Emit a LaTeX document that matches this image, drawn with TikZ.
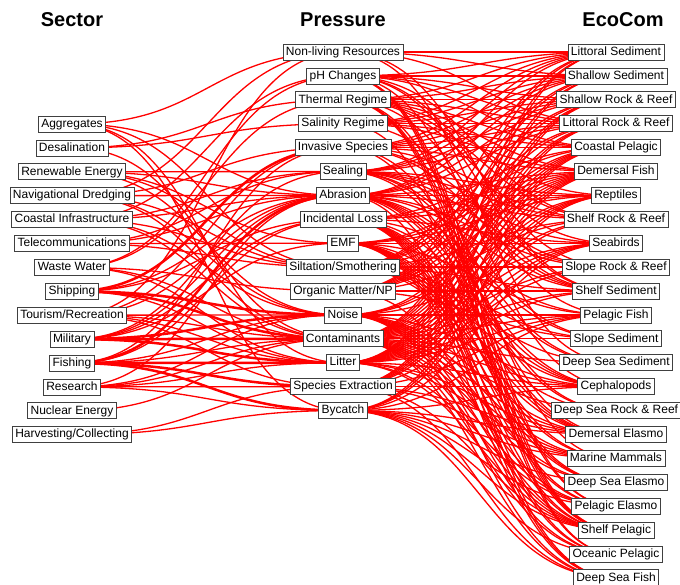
\documentclass[tikz,border=0pt]{standalone}
\usepackage{fontspec}
\setmainfont{Liberation Sans}
\usetikzlibrary{backgrounds}

\tikzset{
  nbox/.style={draw=black!75, line width=0.8pt, fill=white, inner xsep=3pt, inner ysep=0pt,
    minimum height=16pt, text height=9pt, text depth=2.5pt, font=\fontsize{12}{14}\selectfont},
  heading/.style={font=\fontsize{20}{24}\selectfont\bfseries},
  % diagonal curve, flat at both ends
  edgeline/.style={red, line width=1.3pt,
    to path={.. controls +(136,0) and +(-136,0) .. (\tikztotarget)}},
}

\begin{document}
\begin{tikzpicture}[x=1pt, y=-1pt]
  \useasboundingbox (0,0) rectangle (680,584);
  % column headings
  \node[heading] (hsec) at (72,20) {Sector};
  \node[heading] (hpre) at (343,20) {Pressure};
  \node[heading] (heco) at (623,20) {EcoCom};
  % sectors
  \foreach \n/\txt [count=\i from 0] in {agg/Aggregates, desal/Desalination,
      renew/Renewable Energy, dredge/Navigational Dredging, coast/Coastal Infrastructure,
      telec/Telecommunications, waste/Waste Water, ship/Shipping,
      tour/{Tourism/Recreation}, mil/Military, fish/Fishing, res/Research,
      nuc/Nuclear Energy, harv/{Harvesting/Collecting}}
    \node[nbox] (\n) at (72,124+23.9*\i) {\txt};
  % pressures
  \foreach \n/\txt [count=\i from 0] in {nl/Non-living Resources, ph/pH Changes,
      tr/Thermal Regime, sr/Salinity Regime, is/Invasive Species, se/Sealing,
      ab/Abrasion, il/Incidental Loss, emf/EMF, ss/{Siltation/Smothering},
      om/{Organic Matter/NP}, no/Noise, co/Contaminants, li/Litter,
      sx/Species Extraction, by/Bycatch}
    \node[nbox] (\n) at (343,52+23.9*\i) {\txt};
  % ecological components
  \foreach \n/\txt [count=\i from 0] in {lsed/Littoral Sediment, ssed/Shallow Sediment,
      srock/Shallow Rock \& Reef, lrock/Littoral Rock \& Reef, cpel/Coastal Pelagic,
      dfish/Demersal Fish, rept/Reptiles, shrock/Shelf Rock \& Reef, bird/Seabirds,
      slrock/Slope Rock \& Reef, shsed/Shelf Sediment, pfish/Pelagic Fish,
      slsed/Slope Sediment, dssed/Deep Sea Sediment, ceph/Cephalopods,
      dsrock/Deep Sea Rock \& Reef, delas/Demersal Elasmo, mamm/Marine Mammals,
      dselas/Deep Sea Elasmo, pelas/Pelagic Elasmo, shpel/Shelf Pelagic,
      opel/Oceanic Pelagic, dsfish/Deep Sea Fish}
    \node[nbox] (\n) at (616,52+23.9*\i) {\txt};

  \begin{scope}[on background layer]
    % sector -> pressure
    \foreach \s/\p/\w in {agg/nl/1.3, agg/ab/1.3, agg/ss/1.3, agg/li/1.3, agg/by/1.3,
        desal/tr/1.3, desal/sr/1.3, desal/co/1.3,
        renew/se/1.3, renew/ab/1.3, renew/emf/1.3, renew/ss/1.3, renew/no/1.3,
        dredge/nl/1.3, dredge/ab/1.3, dredge/ss/1.3, dredge/co/1.3, dredge/no/1.3, dredge/is/1.3,
        coast/ph/1.3, coast/se/1.3, coast/ab/1.3, coast/ss/1.3, coast/no/1.3, coast/co/1.3,
        telec/se/1.3, telec/ab/1.3, telec/emf/1.3, telec/ss/1.3,
        waste/ph/1.3, waste/tr/1.3, waste/om/1.3, waste/co/1.3, waste/li/1.3,
        ship/is/2.5, ship/il/1.3, ship/ab/1.3, ship/no/2.5, ship/co/2.5, ship/li/1.3,
        tour/nl/1.3, tour/is/1.3, tour/ab/1.3, tour/no/1.3, tour/co/1.3, tour/li/1.3, tour/sx/1.3,
        mil/se/1.3, mil/ab/1.3, mil/il/1.3, mil/emf/1.3, mil/no/2.5, mil/co/2.5, mil/li/2.5,
        fish/is/1.3, fish/ab/2.5, fish/il/1.3, fish/no/1.3, fish/co/1.3, fish/li/2.5,
        fish/sx/2.5, fish/by/2.5,
        res/ab/1.3, res/no/1.3, res/co/1.3, res/li/1.3, res/sx/1.3, res/by/1.3,
        nuc/co/1.3, harv/sx/1.3, harv/by/1.3}
      \draw[edgeline, line width=\w pt] (\s.center) to (\p.center);
    % pressure -> ecological component
    \foreach \p/\lst in {nl/{lsed,ssed,lrock,shsed,dssed},
        ph/{lsed,ssed,srock,lrock,cpel,shrock,slrock,shsed,ceph,pelas,shpel,opel},
        tr/{lsed,ssed,srock,lrock,cpel,dfish,rept,shrock,bird,pfish,mamm,pelas,shpel,opel},
        sr/{lsed,ssed,srock,lrock,cpel,dfish,shsed,shpel},
        is/{lsed,ssed,srock,lrock,cpel,shrock,shsed,dfish,slrock,delas,shpel},
        se/{lsed,ssed,srock,lrock,shrock,slrock,shsed,slsed,dssed,dsrock,rept,bird},
        ab/{lsed,ssed,srock,lrock,shrock,slrock,shsed,slsed,dssed,dsrock,dfish,delas,ceph,
            rept,dselas,dsfish},
        il/{dfish,rept,bird,pfish,ceph,delas,mamm,dselas,pelas,shpel,opel,dsfish,cpel},
        emf/{dfish,rept,pfish,ceph,delas,mamm,dselas,pelas,shpel,opel,dsfish,cpel,bird},
        ss/{lsed,ssed,srock,lrock,shrock,slrock,shsed,slsed,dssed,dsrock,dfish,ceph,delas},
        om/{lsed,ssed,srock,lrock,cpel,shsed,shrock,shpel,dfish,slsed},
        no/{cpel,dfish,rept,bird,pfish,ceph,delas,mamm,dselas,pelas,shpel,opel,dsfish},
        co/{lsed,ssed,srock,lrock,cpel,dfish,rept,shrock,bird,slrock,shsed,pfish,slsed,
            dssed,ceph,dsrock,delas,mamm,dselas,pelas,shpel,opel,dsfish},
        li/{lsed,ssed,srock,lrock,cpel,dfish,rept,bird,shsed,pfish,ceph,delas,mamm,
            pelas,shpel,shrock,slrock},
        sx/{srock,lrock,cpel,dfish,rept,pfish,ceph,delas,shpel,dsfish,mamm,bird},
        by/{dfish,rept,bird,pfish,ceph,delas,mamm,dselas,pelas,shpel,opel,dsfish,cpel}}
      \foreach \e in \lst
        \draw[edgeline] (\p.center) to (\e.center);
  \end{scope}
\end{tikzpicture}
\end{document}
